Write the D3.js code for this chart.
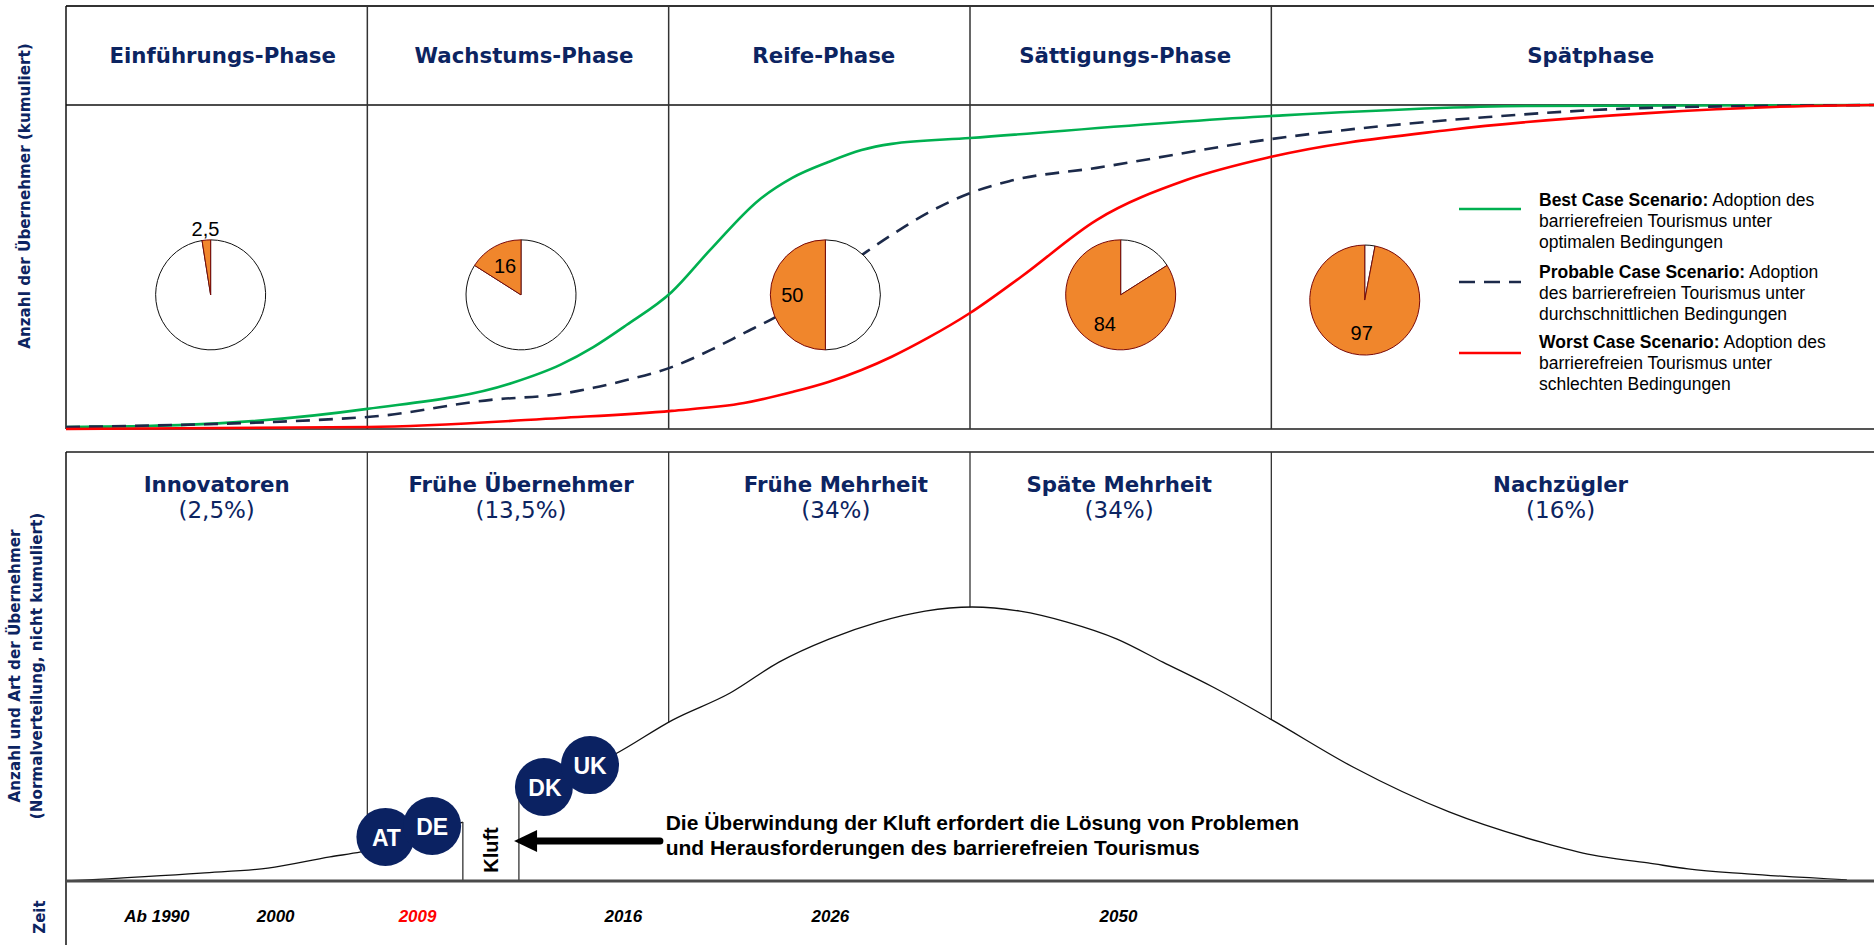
<!DOCTYPE html>
<html>
<head>
<meta charset="utf-8">
<script src="https://cdn.jsdelivr.net/npm/d3@7"></script>
<style>
  body { margin: 0; background: #fff; }
  svg { display: block; }
</style>
</head>
<body>
<svg id="chart" width="1874" height="945"></svg>
<script>
// phases (top panel)
const phaseNames = ['Einführungs-Phase', 'Wachstums-Phase', 'Reife-Phase', 'Sättigungs-Phase', 'Spätphase']
const phaseLabelPos = [0.52, 1.52, 2.515, 3.515, 5.06]
const phaseBounds = [1, 2, 3, 4]

// pies: share of adopters reached per phase
const pieValues = [2.5, 16, 50, 84, 97]
const pieLabels = ['2,5', '16', '50', '84', '97']
const piePos = [0.48, 1.51, 2.52, 3.5, 4.31]
const pieLevel = [41.4, 41.4, 41.4, 41.4, 39.8]

// cumulative adoption curves [phase position, %]
const bestCase = [[0, 0.6], [0.375, 1.2], [1.0, 6.2], [1.48, 14.2], [1.64, 19.8], [1.75, 25.3], [1.86, 32.1],
  [2.01, 42.3], [2.137, 55.2], [2.3, 70.7], [2.41, 77.5], [2.53, 82.4],
  [2.64, 86.1], [2.74, 88.0], [3.0, 89.8], [4.0, 96.6], [4.85, 99.7], [6, 100]]
const probableCase = [[0, 0.6], [1.0, 3.7], [1.41, 9.0], [1.64, 10.8], [1.75, 12.7], [1.86, 15.1], [2.01, 19.1],
  [2.14, 24.4], [2.25, 29.6], [2.35, 34.3], [2.65, 54.3], [2.74, 59.9], [2.86, 66.7], [3.0, 72.8],
  [3.13, 76.5], [3.42, 80.6], [4.0, 89.5], [4.72, 96.3], [5.25, 99.1], [6, 100]]
const worstCase = [[0, 0], [1.0, 0.6], [1.64, 3.4], [2.01, 5.6], [2.25, 8.0], [2.41, 11.4], [2.53, 14.5],
  [2.64, 18.2], [2.74, 22.3], [2.86, 28.1], [3.0, 35.8], [3.17, 47.0], [3.42, 64.5],
  [3.72, 76.9], [4.0, 84.0], [4.59, 92.3], [5.25, 97.5], [5.78, 99.7], [6, 100]]

const legendBold = ['Best Case Scenario:', 'Probable Case Scenario:', 'Worst Case Scenario:']
const legendText = [
  [' Adoption des', 'barrierefreien Tourismus unter', 'optimalen Bedingungen'],
  [' Adoption', 'des barrierefreien Tourismus unter', 'durchschnittlichen Bedingungen'],
  [' Adoption des', 'barrierefreien Tourismus unter', 'schlechten Bedingungen']
]

// adopter groups (bottom panel)
const groupNames = ['Innovatoren', 'Frühe Übernehmer', 'Frühe Mehrheit', 'Späte Mehrheit', 'Nachzügler']
const groupShares = ['(2,5%)', '(13,5%)', '(34%)', '(34%)', '(16%)']
const groupPos = [0.5, 1.51, 2.555, 3.495, 4.96]

// bell curve (non cumulative), % of peak
const bellLeft = [[0, 0], [0.448, 2.9], [0.67, 4.7], [0.876, 8.8], [0.979, 10.6], [1.317, 21.5]]
const bellRight = [[1.503, 30.7], [1.829, 46.7], [2.014, 58.8], [2.204, 68.6], [2.366, 79.9], [2.532, 88.3],
  [2.695, 94.5], [2.851, 98.5], [3.007, 100], [3.166, 98.5], [3.322, 94.5], [3.488, 88.3], [3.64, 79.9],
  [3.806, 70.8], [4.002, 58.8], [4.271, 41.6], [4.59, 25.2], [4.905, 13.9], [5.064, 9.5], [5.25, 6.6],
  [5.383, 4.4], [5.579, 2.6], [5.91, 0.4]]
const gapBounds = [1.317, 1.503]

const countries = ['AT', 'DE', 'DK', 'UK']
const countryPos = [1.06, 1.215, 1.586, 1.739]
const countryLevel = [16.1, 20.1, 34.3, 42.3]

const timeLabels = ['Ab 1990', '2000', '2009', '2016', '2026', '2050']
const timePos = [0.3, 0.694, 1.165, 1.848, 2.535, 3.491]

const navy = '#0c2461'
const svg = d3.select('#chart')

const x = d3.scaleLinear().domain([0, 6]).range([66, 1874])
const y = d3.scaleLinear().domain([0, 100]).range([429, 105])
const yb = d3.scaleLinear().domain([0, 100]).range([881, 607])

// ---------- top panel frame ----------
const topPanel = svg.append('g')
topPanel.append('line').attr('x1', 66).attr('x2', 1874).attr('y1', 6).attr('y2', 6)
  .attr('stroke', '#333').attr('stroke-width', 2)
topPanel.append('line').attr('x1', 66).attr('x2', 1874).attr('y1', y(100)).attr('y2', y(100))
  .attr('stroke', '#111').attr('stroke-width', 1.5)
topPanel.append('line').attr('x1', 66).attr('x2', 1874).attr('y1', y(0)).attr('y2', y(0))
  .attr('stroke', '#555').attr('stroke-width', 2)
topPanel.append('line').attr('x1', x(0)).attr('x2', x(0)).attr('y1', 6).attr('y2', y(0))
  .attr('stroke', '#111').attr('stroke-width', 1.5)
topPanel.selectAll('line.div').data(phaseBounds).join('line')
  .attr('x1', d => x(d)).attr('x2', d => x(d)).attr('y1', 6).attr('y2', y(0))
  .attr('stroke', '#333').attr('stroke-width', 1.5)

topPanel.selectAll('text.phase').data(phaseNames).join('text')
  .attr('x', (d, i) => x(phaseLabelPos[i])).attr('y', 55)
  .attr('text-anchor', 'middle').attr('dominant-baseline', 'central')
  .attr('font-family', 'DejaVu Sans, Verdana, sans-serif').attr('font-weight', 'bold')
  .attr('font-size', 21.3).attr('fill', navy)
  .text(d => d)

// curves
const line = d3.line().x(d => x(d[0])).y(d => y(d[1])).curve(d3.curveMonotoneX)
const scenarios = [
  {data: bestCase, color: '#00b050', dash: null},
  {data: probableCase, color: '#1c2a4a', dash: '14,9'},
  {data: worstCase, color: '#ff0000', dash: null}
]
topPanel.selectAll('path.curve').data(scenarios).join('path')
  .attr('d', d => line(d.data))
  .attr('fill', 'none').attr('stroke', d => d.color).attr('stroke-width', 2.6)
  .attr('stroke-dasharray', d => d.dash)

// pies
const pie = d3.pie().sort(null).startAngle(0).endAngle(-2 * Math.PI)
const arc = d3.arc().innerRadius(0).outerRadius(55)
pieValues.forEach((v, i) => {
  const g = topPanel.append('g').attr('transform', `translate(${x(piePos[i])},${y(pieLevel[i])})`)
  const slices = pie([v, 100 - v])
  g.append('path').attr('d', arc(slices[1])).attr('fill', '#fff').attr('stroke', '#111').attr('stroke-width', 1)
  g.append('path').attr('d', arc(slices[0])).attr('fill', '#f0862c').attr('stroke', '#7a0a0a').attr('stroke-width', 1)
  const lr = v < 5 ? 66 : 33
  const c = d3.arc().innerRadius(lr).outerRadius(lr).centroid(slices[0])
  g.append('text').attr('x', c[0]).attr('y', c[1])
    .attr('text-anchor', 'middle').attr('dominant-baseline', 'central')
    .attr('font-family', 'Liberation Sans, Arial, sans-serif').attr('font-size', 20)
    .attr('fill', '#000').text(pieLabels[i])
})

// legend
const legend = topPanel.append('g')
legendBold.forEach((b, i) => {
  const ly = [209, 282, 353][i]
  const ty = [200, 272, 342][i]
  legend.append('line').attr('x1', 1459).attr('x2', 1521).attr('y1', ly).attr('y2', ly)
    .attr('stroke', scenarios[i].color).attr('stroke-width', 2.6)
    .attr('stroke-dasharray', i === 1 ? '16,9' : null)
  const t = legend.append('text').attr('x', 1539).attr('y', ty)
    .attr('font-family', 'Liberation Sans, Arial, sans-serif').attr('font-size', 17.5)
    .attr('dominant-baseline', 'central').attr('fill', '#000')
  t.append('tspan').attr('font-weight', 'bold').text(b)
  t.append('tspan').text(legendText[i][0])
  legendText[i].slice(1).forEach((l, j) => {
    legend.append('text').attr('x', 1539).attr('y', ty + 21 * (j + 1))
      .attr('font-family', 'Liberation Sans, Arial, sans-serif').attr('font-size', 17.5)
      .attr('dominant-baseline', 'central').attr('fill', '#000').text(l)
  })
})

// ---------- bottom panel ----------
const bot = svg.append('g')
const bellAll = bellLeft.concat(bellRight)
const bellAt = d3.scaleLinear().domain(bellAll.map(d => d[0])).range(bellAll.map(d => d[1]))

bot.append('line').attr('x1', 66).attr('x2', 1874).attr('y1', 452).attr('y2', 452)
  .attr('stroke', '#555').attr('stroke-width', 2)
bot.append('line').attr('x1', x(0)).attr('x2', x(0)).attr('y1', 452).attr('y2', 945)
  .attr('stroke', '#111').attr('stroke-width', 1.5)
bot.selectAll('line.div').data(phaseBounds).join('line')
  .attr('x1', d => x(d)).attr('x2', d => x(d)).attr('y1', 452).attr('y2', d => yb(bellAt(d)))
  .attr('stroke', '#333').attr('stroke-width', 1.3)

const bellLine = d3.line().x(d => x(d[0])).y(d => yb(d[1])).curve(d3.curveMonotoneX)
bot.selectAll('path.bell').data([bellLeft, bellRight]).join('path')
  .attr('d', bellLine).attr('fill', 'none').attr('stroke', '#111').attr('stroke-width', 1.3)

// gap ("Kluft")
bot.selectAll('line.gap').data(gapBounds).join('line')
  .attr('x1', d => x(d)).attr('x2', d => x(d)).attr('y1', d => yb(bellAt(d))).attr('y2', yb(0))
  .attr('stroke', '#333').attr('stroke-width', 1.3)

bot.append('line').attr('x1', 66).attr('x2', 1874).attr('y1', yb(0)).attr('y2', yb(0))
  .attr('stroke', '#4a4a4a').attr('stroke-width', 3)

bot.append('text')
  .attr('transform', `translate(${x(1.41)},${yb(11.3)}) rotate(-90)`)
  .attr('text-anchor', 'middle').attr('dominant-baseline', 'central')
  .attr('font-family', 'Liberation Sans, Arial, sans-serif').attr('font-weight', 'bold')
  .attr('font-size', 20).attr('fill', '#000').text('Kluft')

// arrow
const ay = yb(14.6)
const tipX = x(1.487)
bot.append('line').attr('x1', x(1.971)).attr('x2', tipX + 18).attr('y1', ay).attr('y2', ay)
  .attr('stroke', '#000').attr('stroke-width', 7).attr('stroke-linecap', 'round')
bot.append('path')
  .attr('d', `M${tipX},${ay} L${tipX + 23},${ay - 11} L${tipX + 23},${ay + 11} Z`)
  .attr('fill', '#000')

const note = ['Die Überwindung der Kluft erfordert die Lösung von Problemen',
  'und Herausforderungen des barrierefreien Tourismus']
bot.selectAll('text.note').data(note).join('text')
  .attr('x', x(1.99)).attr('y', (d, i) => ay - 18 + i * 25)
  .attr('dominant-baseline', 'central')
  .attr('font-family', 'Liberation Sans, Arial, sans-serif').attr('font-weight', 'bold')
  .attr('font-size', 21).attr('fill', '#000').text(d => d)

// countries
const cg = bot.selectAll('g.country').data(countries).join('g')
  .attr('transform', (d, i) => `translate(${x(countryPos[i])},${yb(countryLevel[i])})`)
cg.append('circle').attr('r', 29).attr('fill', '#0b2262')
cg.append('text').attr('text-anchor', 'middle').attr('dominant-baseline', 'central')
  .attr('dy', 1).attr('dx', (d, i) => i % 2 ? 0 : 1)
  .attr('font-family', 'Liberation Sans, Arial, sans-serif').attr('font-weight', 'bold')
  .attr('font-size', 23).attr('fill', '#fff').text(d => d)

// group labels
bot.selectAll('text.group').data(groupNames).join('text')
  .attr('x', (d, i) => x(groupPos[i])).attr('y', 484)
  .attr('text-anchor', 'middle').attr('dominant-baseline', 'central')
  .attr('font-family', 'DejaVu Sans, Verdana, sans-serif').attr('font-weight', 'bold')
  .attr('font-size', 21.3).attr('fill', navy).text(d => d)
bot.selectAll('text.share').data(groupShares).join('text')
  .attr('x', (d, i) => x(groupPos[i])).attr('y', 510)
  .attr('text-anchor', 'middle').attr('dominant-baseline', 'central')
  .attr('font-family', 'DejaVu Sans, Verdana, sans-serif')
  .attr('font-size', 23).attr('fill', navy).text(d => d)

// time axis
const axis = d3.axisBottom(x).tickValues(timePos).tickFormat((d, i) => timeLabels[i]).tickSize(0).tickPadding(0)
const ax = svg.append('g').attr('transform', 'translate(0,910)').call(axis)
ax.select('.domain').remove()
ax.selectAll('text')
  .attr('font-family', 'Liberation Sans, Arial, sans-serif').attr('font-weight', 'bold')
  .attr('font-style', 'italic').attr('font-size', 17)
  .attr('fill', (d, i) => timeLabels[i] === '2009' ? '#ff0000' : '#000')

// axis titles
const titleFont = 'DejaVu Sans, Verdana, sans-serif'
svg.append('text').attr('transform', 'translate(25,196) rotate(-90)')
  .attr('text-anchor', 'middle').attr('dominant-baseline', 'central')
  .attr('font-family', titleFont).attr('font-weight', 'bold').attr('font-size', 15.2)
  .attr('fill', navy).text('Anzahl der Übernehmer (kumuliert)')
svg.append('text').attr('transform', 'translate(15,666) rotate(-90)')
  .attr('text-anchor', 'middle').attr('dominant-baseline', 'central')
  .attr('font-family', titleFont).attr('font-weight', 'bold').attr('font-size', 15.2)
  .attr('fill', navy).text('Anzahl und Art der Übernehmer')
svg.append('text').attr('transform', 'translate(37,666) rotate(-90)')
  .attr('text-anchor', 'middle').attr('dominant-baseline', 'central')
  .attr('font-family', titleFont).attr('font-weight', 'bold').attr('font-size', 15.2)
  .attr('fill', navy).text('(Normalverteilung, nicht kumuliert)')
svg.append('text').attr('transform', 'translate(40,917) rotate(-90)')
  .attr('text-anchor', 'middle').attr('dominant-baseline', 'central')
  .attr('font-family', titleFont).attr('font-weight', 'bold').attr('font-size', 15)
  .attr('fill', navy).text('Zeit')
</script>
</body>
</html>
